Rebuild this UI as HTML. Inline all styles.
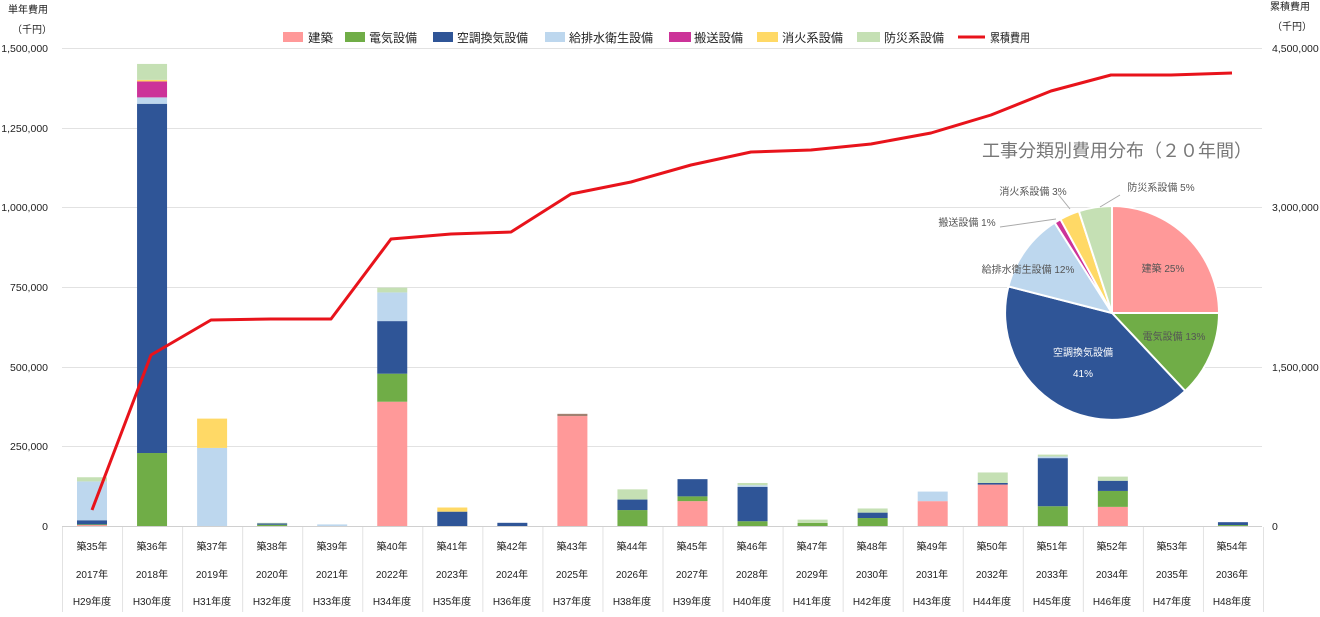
<!DOCTYPE html>
<html><head><meta charset="utf-8">
<style>
body{margin:0;background:#fff;}
svg text{font-family:"Liberation Sans","Noto Sans CJK JP",sans-serif;}
</style></head>
<body>
<svg width="1320" height="612" viewBox="0 0 1320 612" xmlns="http://www.w3.org/2000/svg">
<g stroke="#e2e2e2" stroke-width="1">
<line x1="62" y1="48.5" x2="1262" y2="48.5"/>
<line x1="62" y1="128.5" x2="1262" y2="128.5"/>
<line x1="62" y1="207.5" x2="1262" y2="207.5"/>
<line x1="62" y1="287.5" x2="1262" y2="287.5"/>
<line x1="62" y1="367.5" x2="1262" y2="367.5"/>
<line x1="62" y1="446.5" x2="1262" y2="446.5"/>
<line x1="62" y1="526.5" x2="1262" y2="526.5" stroke="#d0d0d0"/>
</g>
<g id="seps" stroke="#e2e2e2"></g>
<g font-size="10.5" fill="#222" text-anchor="end">
<text x="48" y="52">1,500,000</text>
<text x="48" y="132">1,250,000</text>
<text x="48" y="211">1,000,000</text>
<text x="48" y="291">750,000</text>
<text x="48" y="371">500,000</text>
<text x="48" y="450">250,000</text>
<text x="48" y="530">0</text>
</g>
<g font-size="10.5" fill="#222">
<text x="1272" y="52">4,500,000</text>
<text x="1272" y="211">3,000,000</text>
<text x="1272" y="371">1,500,000</text>
<text x="1272" y="530">0</text>
<text x="8" y="13" font-size="10">単年費用</text>
<text x="12" y="33" font-size="10">（千円）</text>
<text x="1270" y="10" font-size="10">累積費用</text>
<text x="1272" y="30" font-size="10">（千円）</text>
</g>
<g id="bars"></g>
<polyline fill="none" stroke="#e8131b" stroke-width="3" stroke-linejoin="round" points="92,510 151,355 211,320 271,319 331,319 391,239 451,234 511,232 571,194 631,182 691,165 751,152 811,150 871,144 931,133 991,115 1051,91 1111,75 1171,75 1232,73"/>
<!-- legend -->
<g font-size="12" fill="#222">
<rect x="283" y="32" width="20" height="10" fill="#ff9999"/><text x="308" y="42" textLength="25" lengthAdjust="spacingAndGlyphs">建築</text>
<rect x="345" y="32" width="20" height="10" fill="#70ad47"/><text x="369" y="42" textLength="48" lengthAdjust="spacingAndGlyphs">電気設備</text>
<rect x="433" y="32" width="20" height="10" fill="#2f5597"/><text x="457" y="42" textLength="71" lengthAdjust="spacingAndGlyphs">空調換気設備</text>
<rect x="545" y="32" width="20" height="10" fill="#bdd7ee"/><text x="569" y="42" textLength="84" lengthAdjust="spacingAndGlyphs">給排水衛生設備</text>
<rect x="669" y="32" width="22" height="10" fill="#cc3399"/><text x="694" y="42" textLength="49" lengthAdjust="spacingAndGlyphs">搬送設備</text>
<rect x="757" y="32" width="21" height="10" fill="#ffd966"/><text x="782" y="42" textLength="61" lengthAdjust="spacingAndGlyphs">消火系設備</text>
<rect x="857" y="32" width="23" height="10" fill="#c5e0b4"/><text x="884" y="42" textLength="60" lengthAdjust="spacingAndGlyphs">防災系設備</text>
<line x1="958" y1="37" x2="985" y2="37" stroke="#e8131b" stroke-width="3"/><text x="990" y="42" textLength="40" lengthAdjust="spacingAndGlyphs">累積費用</text>
</g>
<!-- x labels -->
<g font-size="10" fill="#222" text-anchor="middle">
<text x="92" y="550">築35年</text><text x="92" y="578">2017年</text><text x="92" y="605">H29年度</text>
<text x="152" y="550">築36年</text><text x="152" y="578">2018年</text><text x="152" y="605">H30年度</text>
<text x="212" y="550">築37年</text><text x="212" y="578">2019年</text><text x="212" y="605">H31年度</text>
<text x="272" y="550">築38年</text><text x="272" y="578">2020年</text><text x="272" y="605">H32年度</text>
<text x="332" y="550">築39年</text><text x="332" y="578">2021年</text><text x="332" y="605">H33年度</text>
<text x="392" y="550">築40年</text><text x="392" y="578">2022年</text><text x="392" y="605">H34年度</text>
<text x="452" y="550">築41年</text><text x="452" y="578">2023年</text><text x="452" y="605">H35年度</text>
<text x="512" y="550">築42年</text><text x="512" y="578">2024年</text><text x="512" y="605">H36年度</text>
<text x="572" y="550">築43年</text><text x="572" y="578">2025年</text><text x="572" y="605">H37年度</text>
<text x="632" y="550">築44年</text><text x="632" y="578">2026年</text><text x="632" y="605">H38年度</text>
<text x="692" y="550">築45年</text><text x="692" y="578">2027年</text><text x="692" y="605">H39年度</text>
<text x="752" y="550">築46年</text><text x="752" y="578">2028年</text><text x="752" y="605">H40年度</text>
<text x="812" y="550">築47年</text><text x="812" y="578">2029年</text><text x="812" y="605">H41年度</text>
<text x="872" y="550">築48年</text><text x="872" y="578">2030年</text><text x="872" y="605">H42年度</text>
<text x="932" y="550">築49年</text><text x="932" y="578">2031年</text><text x="932" y="605">H43年度</text>
<text x="992" y="550">築50年</text><text x="992" y="578">2032年</text><text x="992" y="605">H44年度</text>
<text x="1052" y="550">築51年</text><text x="1052" y="578">2033年</text><text x="1052" y="605">H45年度</text>
<text x="1112" y="550">築52年</text><text x="1112" y="578">2034年</text><text x="1112" y="605">H46年度</text>
<text x="1172" y="550">築53年</text><text x="1172" y="578">2035年</text><text x="1172" y="605">H47年度</text>
<text x="1232" y="550">築54年</text><text x="1232" y="578">2036年</text><text x="1232" y="605">H48年度</text>
</g>
<!-- pie -->
<text x="1117" y="157" font-size="18" fill="#777" text-anchor="middle">工事分類別費用分布（２０年間）</text>
<g stroke="#fff" stroke-width="2">
<path d="M1112,313 L1112,206 A107,107 0 0 1 1219,313 Z" fill="#ff9999"/>
<path d="M1112,313 L1219,313 A107,107 0 0 1 1185.2,391 Z" fill="#70ad47"/>
<path d="M1112,313 L1185.2,391 A107,107 0 0 1 1008.4,286.4 Z" fill="#2f5597"/>
<path d="M1112,313 L1008.4,286.4 A107,107 0 0 1 1054.7,222.7 Z" fill="#bdd7ee"/>
<path d="M1112,313 L1054.7,222.7 A107,107 0 0 1 1060.4,219.2 Z" fill="#cc3399"/>
<path d="M1112,313 L1060.4,219.2 A107,107 0 0 1 1078.9,211.2 Z" fill="#ffd966"/>
<path d="M1112,313 L1078.9,211.2 A107,107 0 0 1 1112,206 Z" fill="#c5e0b4"/>
</g>
<g stroke="#aaa" fill="none" stroke-width="1">
<polyline points="1000,227 1056,219"/>
<polyline points="1058,194 1070,209"/>
<polyline points="1120,195 1100,207"/>
</g>
<g font-size="10" fill="#555">
<text x="1163" y="272" text-anchor="middle">建築 25%</text>
<text x="1174" y="340" text-anchor="middle">電気設備 13%</text>
<text x="1083" y="356" text-anchor="middle" fill="#fff">空調換気設備</text>
<text x="1083" y="377" text-anchor="middle" fill="#fff">41%</text>
<text x="1028" y="273" text-anchor="middle">給排水衛生設備 12%</text>
<text x="967" y="226" text-anchor="middle">搬送設備 1%</text>
<text x="1033" y="195" text-anchor="middle">消火系設備 3%</text>
<text x="1161" y="191" text-anchor="middle">防災系設備 5%</text>
</g>
<script>
(function(){
var C=["#ff9999","#70ad47","#2f5597","#bdd7ee","#cc3399","#ffd966","#c5e0b4","#a08070"];
var D=[
[[0,3],[1,5],[2,18],[3,140],[6,153]],
[[1,229],[2,1325],[3,1345],[4,1395],[5,1400],[6,1450]],
[[3,245],[5,337]],
[[1,4],[2,8],[6,10]],
[[3,5]],
[[0,390],[1,478],[2,643],[3,733],[6,748]],
[[2,45],[5,58]],
[[2,10]],
[[0,345],[7,352]],
[[1,50],[2,83],[6,115]],
[[0,78],[1,93],[2,147]],
[[1,15],[2,123],[3,128],[6,135]],
[[1,10],[6,20]],
[[1,25],[2,42],[6,55]],
[[0,78],[3,108]],
[[0,130],[2,135],[6,168]],
[[1,62],[2,213],[3,218],[6,224]],
[[0,60],[1,110],[2,142],[6,155]],
[],
[[1,3],[2,12]]];
var g=document.getElementById('bars'),s=document.getElementById('seps'),ns="http://www.w3.org/2000/svg";
function y(v){return 526-v*478/1500;}
for(var i=0;i<20;i++){var cx=92+60.05*i,prev=0;
 D[i].forEach(function(p){var r=document.createElementNS(ns,'rect');r.setAttribute('x',cx-15);r.setAttribute('width',30);r.setAttribute('y',y(p[1]));r.setAttribute('height',y(prev)-y(p[1]));r.setAttribute('fill',C[p[0]]);g.appendChild(r);prev=p[1];});
}
for(var i=0;i<=20;i++){var l=document.createElementNS(ns,'line');var x=62+60.05*i+0.5;l.setAttribute('x1',x);l.setAttribute('x2',x);l.setAttribute('y1',527);l.setAttribute('y2',612);s.appendChild(l);}
})();
</script>
</svg>
</body></html>
